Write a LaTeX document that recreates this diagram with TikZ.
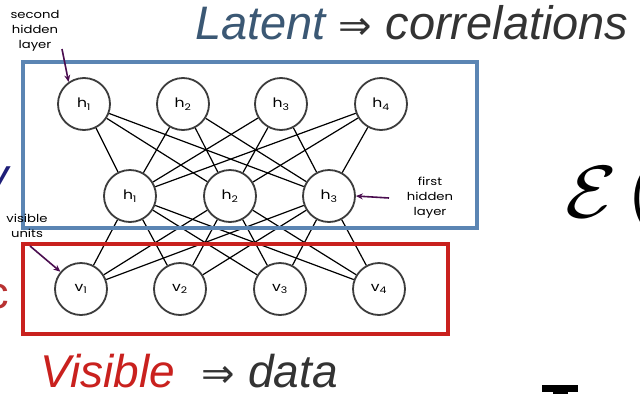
\documentclass[tikz,border=0pt]{standalone}
\usepackage{fontspec}
\setmainfont{Liberation Sans}
\newfontfamily\labelfont[FakeStretch=1.2]{Poppins}
\newfontfamily\arrowfont{DejaVu Sans}
\usetikzlibrary{arrows.meta}
\definecolor{latentblue}{HTML}{3B5874}
\definecolor{darktext}{HTML}{333333}
\definecolor{visiblered}{HTML}{C9211E}
\definecolor{boxblue}{HTML}{5B85B3}
\definecolor{nodegray}{HTML}{3C3C3C}
\definecolor{notepurple}{HTML}{4A0D4F}
\definecolor{fragnavy}{HTML}{1E1E78}
\definecolor{fragred}{HTML}{B83232}
\newcommand{\implies}{{\upshape\arrowfont\fontsize{40}{40}\selectfont ⇒}}
\begin{document}
\begin{tikzpicture}[x=1pt,y=-1pt,
    unit/.style={draw=nodegray,line width=1.8pt,circle,minimum size=52pt,inner sep=0pt,fill=white,
      font=\labelfont\fontsize{13}{13}\selectfont},
    note/.style={align=center,inner sep=0pt,font=\labelfont\fontsize{11}{15}\selectfont},
    pointer/.style={-{Stealth[length=7pt,width=6pt]},line width=1.6pt,draw=notepurple},
    headline/.style={anchor=base west,inner sep=0pt,font=\itshape\fontsize{47}{50}\selectfont}]
  \useasboundingbox (0,0) rectangle (640,394);
  \clip (0,0) rectangle (640,394);

  % second hidden layer
  \node[unit] (t1) at (84,104) {h\textsubscript{1}};
  \node[unit,right of=t1,node distance=99pt] (t2) {h\textsubscript{2}};
  \node[unit,right of=t2,node distance=98pt] (t3) {h\textsubscript{3}};
  \node[unit,right of=t3,node distance=100pt] (t4) {h\textsubscript{4}};
  % first hidden layer
  \node[unit] (m1) at (130,196) {h\textsubscript{1}};
  \node[unit,right of=m1,node distance=100pt] (m2) {h\textsubscript{2}};
  \node[unit,right of=m2,node distance=99pt] (m3) {h\textsubscript{3}};
  % visible units
  \node[unit] (v1) at (81,289) {v\textsubscript{1}};
  \node[unit,right of=v1,node distance=99pt] (v2) {v\textsubscript{2}};
  \node[unit,right of=v2,node distance=100pt] (v3) {v\textsubscript{3}};
  \node[unit,right of=v3,node distance=99pt] (v4) {v\textsubscript{4}};

  \foreach \i in {1,...,4} \foreach \j in {1,2,3} {
    \draw[line width=1.2pt] (t\i) -- (m\j);
    \draw[line width=1.2pt] (m\j) -- (v\i);
  }

  \draw[boxblue,line width=3.5pt] (23,62) rectangle (477,228);
  \draw[visiblered,line width=3.5pt] (23,244) rectangle (448,334);

  % notes
  \node[note] (second) at (35,31) {second\\hidden\\layer};
  \node[note] (first) at (430,198) {first\\hidden\\layer};
  \node[note] (units) at (27,226) {visible\\units};
  \coordinate (secondtail) at (62,49);
  \coordinate (firsttail) at (389,198);
  \coordinate (unitstail) at (30,246);
  \draw[pointer] (secondtail) -- (t1.125);
  \draw[pointer] (firsttail) -- (m3.east);
  \draw[pointer] (unitstail) -- (v1.140);

  % headlines
  \node[headline,text=darktext] (latent) at (195,39)
    {\textcolor{latentblue}{Latent} \implies{} correlations};
  \node[headline,text=darktext,font=\itshape\fontsize{46}{50}\selectfont] (visible) at (40,387)
    {\textcolor{visiblered}{Visible}\hspace{27pt}\implies{} data};

  % cut-off pieces of the slide
  \node[anchor=base west,inner sep=0pt,xscale=8.4,yscale=7.4] (energy) at (564,217) {$\mathcal{E}\mkern2mu($};
  \node[anchor=base east,inner sep=0pt,text=fragnavy,font=\itshape\fontsize{45}{45}\selectfont] (fragv) at (9,190) {v};
  \node[anchor=base east,inner sep=0pt,text=fragred,font=\fontsize{45}{45}\selectfont] (fragc) at (9,308) {c};
  \fill (542,385) rectangle (578,392);
  \fill (553,392) rectangle (568,394);
\end{tikzpicture}
\end{document}
